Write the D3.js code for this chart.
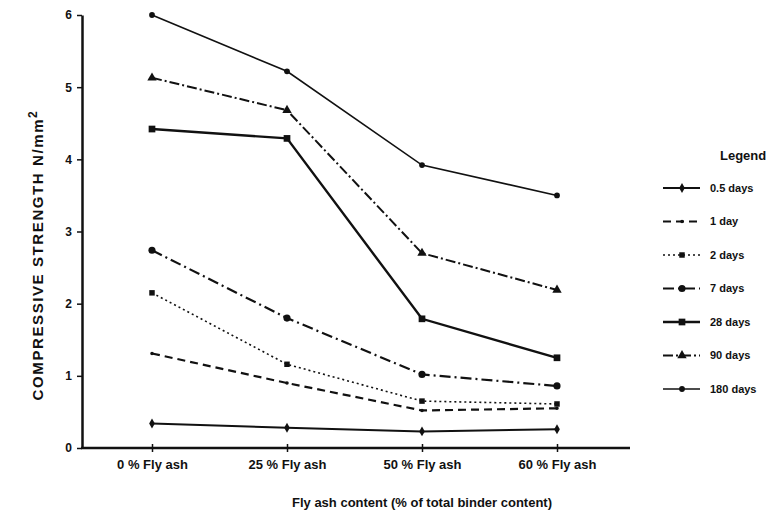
<!DOCTYPE html>
<html>
<head>
<meta charset="utf-8">
<script src="https://cdn.jsdelivr.net/npm/d3@7"></script>
<style>
  body { margin: 0; background: #fff; }
  text { font-family: "Liberation Sans", Arial, sans-serif; font-weight: bold; fill: #111; }
</style>
</head>
<body>
<script>
var width = 771, height = 517

// fly ash levels on the x axis
var categories = ["0 % Fly ash", "25 % Fly ash", "50 % Fly ash", "60 % Fly ash"]
var yTicks = [0, 1, 2, 3, 4, 5, 6]

// compressive strength (N/mm2) per curing age
var halfDay = [0.34, 0.28, 0.23, 0.26]
var oneDay = [1.31, 0.90, 0.52, 0.55]
var twoDays = [2.15, 1.16, 0.65, 0.61]
var sevenDays = [2.74, 1.80, 1.02, 0.86]
var days28 = [4.42, 4.29, 1.79, 1.25]
var days90 = [5.13, 4.68, 2.70, 2.19]
var days180 = [6.00, 5.22, 3.92, 3.50]

var seriesNames = ["0.5 days", "1 day", "2 days", "7 days", "28 days", "90 days", "180 days"]
var seriesValues = [halfDay, oneDay, twoDays, sevenDays, days28, days90, days180]

// line look for each series (scanned b/w chart)
var styles = [
  { dash: null, w: 2, sym: d3.symbolDiamond, size: 28 },
  { dash: "8,5", w: 2.2, sym: d3.symbolCircle, size: 10 },
  { dash: "2,3", w: 1.6, sym: d3.symbolSquare, size: 30 },
  { dash: "11,4,2,4", w: 2.2, sym: d3.symbolCircle, size: 40 },
  { dash: null, w: 2.4, sym: d3.symbolSquare, size: 45 },
  { dash: "10,3,2,3", w: 2, sym: d3.symbolTriangle, size: 38 },
  { dash: null, w: 1.6, sym: d3.symbolCircle, size: 26 }
]

var series = seriesNames.map(function(n, i) {
  return { name: n, values: seriesValues[i], style: styles[i] }
})

var svg = d3.select("body").append("svg")
  .attr("width", width)
  .attr("height", height)

var x = d3.scalePoint().domain(categories).range([152, 557])
var y = d3.scaleLinear().domain([0, 6]).range([448, 15])

// y axis
var yAxis = svg.append("g")
  .attr("transform", "translate(82,0)")
  .call(d3.axisLeft(y).tickValues(yTicks).tickFormat(d3.format("d"))
    .tickSize(5).tickSizeOuter(0).tickPadding(5))
yAxis.select(".domain").attr("stroke", "#111").attr("stroke-width", 2.5)
yAxis.selectAll(".tick line").attr("stroke", "#111").attr("stroke-width", 1.5)
yAxis.selectAll(".tick text").style("font-size", "12px")

// x axis, baseline runs past the last category
svg.append("line")
  .attr("x1", 81).attr("x2", 630)
  .attr("y1", y(0)).attr("y2", y(0))
  .attr("stroke", "#111").attr("stroke-width", 2.5)

var xAxis = svg.append("g")
  .attr("transform", "translate(0," + y(0) + ")")
  .call(d3.axisBottom(x).tickSize(4).tickPadding(8))
xAxis.select(".domain").remove()
xAxis.selectAll(".tick line").attr("stroke", "#111").attr("stroke-width", 1.5).attr("y1", -4)
xAxis.selectAll(".tick text").style("font-size", "13px")

// axis titles
svg.append("text")
  .attr("transform", "translate(43,255) rotate(-90)")
  .attr("text-anchor", "middle")
  .style("font-size", "15px")
  .style("letter-spacing", "1.6px")
  .text("COMPRESSIVE STRENGTH  N/mm")
  .append("tspan")
  .attr("dy", "-0.5em")
  .style("font-size", "12px")
  .text("2")

svg.append("text")
  .attr("x", 292)
  .attr("y", 507)
  .style("font-size", "13px")
  .text("Fly ash content (% of total binder content)")

// lines
var line = d3.line()
  .x(function(d, i) { return x(categories[i]) })
  .y(function(d) { return y(d) })

var groups = svg.append("g").selectAll("g")
  .data(series)
  .enter().append("g")

groups.append("path")
  .attr("d", function(d) { return line(d.values) })
  .attr("fill", "none")
  .attr("stroke", "#111")
  .attr("stroke-width", function(d) { return d.style.w })
  .attr("stroke-dasharray", function(d) { return d.style.dash })

groups.each(function(s) {
  d3.select(this).selectAll("path.pt")
    .data(s.values)
    .enter().append("path")
    .attr("class", "pt")
    .attr("transform", function(d, i) { return "translate(" + x(categories[i]) + "," + y(d) + ")" })
    .attr("d", d3.symbol().type(s.style.sym).size(s.style.size))
    .attr("fill", "#111")
})

// legend
svg.append("text")
  .attr("x", 720)
  .attr("y", 160)
  .style("font-size", "13px")
  .text("Legend")

var legend = svg.append("g").selectAll("g")
  .data(series)
  .enter().append("g")
  .attr("transform", function(d, i) { return "translate(0," + (188 + i * 33.5) + ")" })

legend.append("line")
  .attr("x1", 663).attr("x2", 700)
  .attr("stroke", "#111")
  .attr("stroke-width", function(d) { return d.style.w })
  .attr("stroke-dasharray", function(d) { return d.style.dash })

legend.append("path")
  .attr("transform", "translate(682,0)")
  .attr("d", function(d) { return d3.symbol().type(d.style.sym).size(d.style.size)() })
  .attr("fill", "#111")

legend.append("text")
  .attr("x", 710)
  .attr("dy", "0.35em")
  .style("font-size", "11px")
  .text(function(d) { return d.name })
</script>
</body>
</html>
